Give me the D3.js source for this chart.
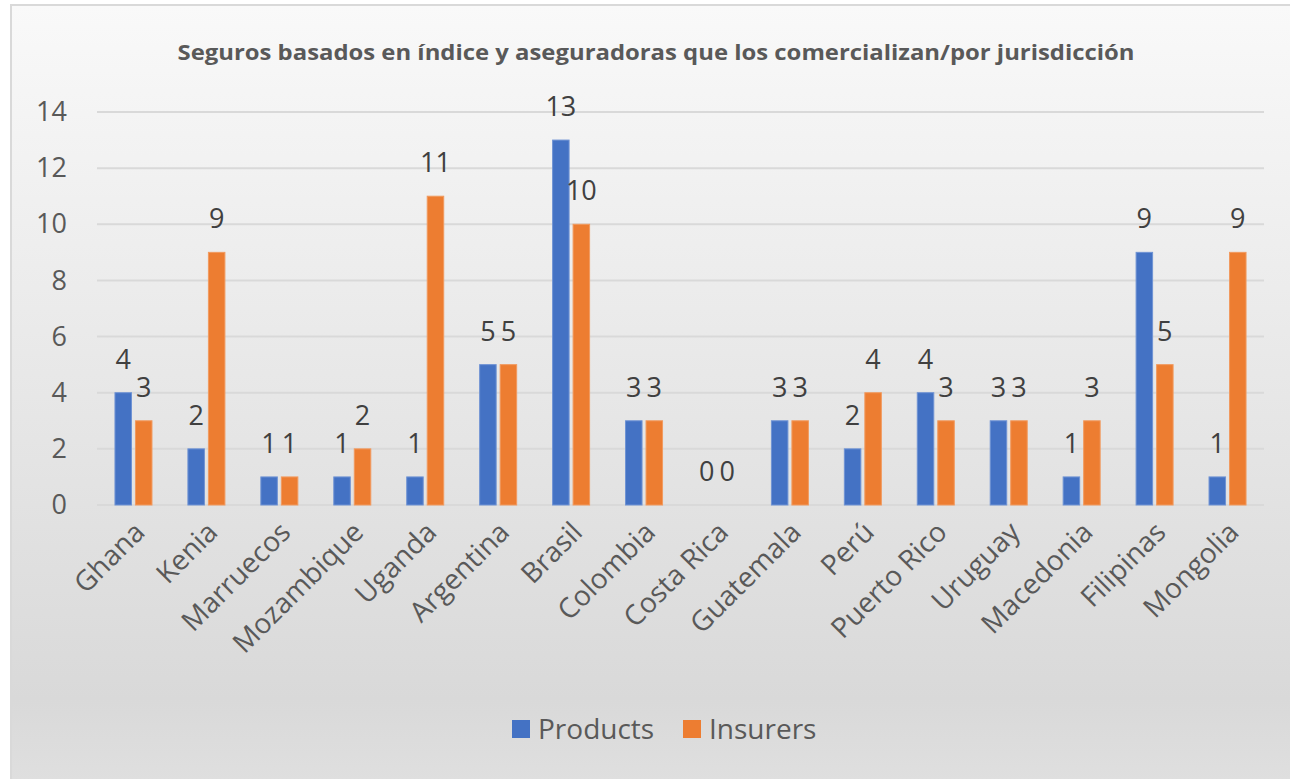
<!DOCTYPE html>
<html>
<head>
<meta charset="utf-8">
<script src="https://cdn.jsdelivr.net/npm/d3@7"></script>
<style>
    body { margin: 0; background: #fff; }
    svg { display: block; font-family: "Open Sans", sans-serif; }
</style>
</head>
<body>
<div id="chart"></div>
<script>
// data
var countries = ["Ghana", "Kenia", "Marruecos", "Mozambique", "Uganda", "Argentina", "Brasil", "Colombia",
    "Costa Rica", "Guatemala", "Perú", "Puerto Rico", "Uruguay", "Macedonia", "Filipinas", "Mongolia"];
var products = [4, 2, 1, 1, 1, 5, 13, 3, 0, 3, 2, 4, 3, 1, 9, 1];
var insurers = [3, 9, 1, 2, 11, 5, 10, 3, 0, 3, 4, 3, 3, 3, 5, 9];
var seriesNames = ["Products", "Insurers"];
var yTicks = [0, 2, 4, 6, 8, 10, 12, 14];
var titleText = "Seguros basados en índice y aseguradoras que los comercializan/por jurisdicción";

const W = 1290, H = 779;
const colors = ["#4472c4", "#ed7d31"];
const textColor = "#595959";
const labelColor = "#404040";
const fs = 27;

var svg = d3.select("#chart").append("svg")
    .attr("width", W)
    .attr("height", H);

var defs = svg.append("defs");
var grad = defs.append("linearGradient")
    .attr("id", "bg")
    .attr("x1", 0).attr("y1", 0).attr("x2", 0).attr("y2", 1);
grad.append("stop").attr("offset", "0%").attr("stop-color", "#f9f9f9");
grad.append("stop").attr("offset", "88%").attr("stop-color", "#d9d9d9");
grad.append("stop").attr("offset", "100%").attr("stop-color", "#e0e0e0");

// chart area with border
svg.append("rect")
    .attr("x", 11).attr("y", 5)
    .attr("width", W + 10).attr("height", H + 10)
    .attr("fill", "url(#bg)")
    .attr("stroke", "#d9d9d9")
    .attr("stroke-width", 2);

svg.append("text")
    .attr("x", 656)
    .attr("y", 60)
    .attr("text-anchor", "middle")
    .attr("font-size", 22)
    .attr("font-weight", "bold")
    .attr("fill", textColor)
    .attr("textLength", 957)
    .attr("lengthAdjust", "spacingAndGlyphs")
    .text(titleText);

var x = d3.scaleBand()
    .domain(countries)
    .range([97, 1264]);

var y = d3.scaleLinear()
    .domain([0, 14])
    .range([505, 112]);

// grid lines
svg.append("g")
    .selectAll("line")
    .data(yTicks)
    .enter().append("line")
    .attr("x1", 97).attr("x2", 1264)
    .attr("y1", function(d) { return y(d); })
    .attr("y2", function(d) { return y(d); })
    .attr("stroke", "#d9d9d9")
    .attr("stroke-width", 2);

// y axis labels
var yAxis = svg.append("g")
    .attr("transform", "translate(67,0)")
    .call(d3.axisLeft(y).tickValues(yTicks).tickSize(0).tickPadding(0));
yAxis.select(".domain").remove();
yAxis.selectAll("text")
    .attr("font-family", "Open Sans, sans-serif")
    .attr("font-size", fs)
    .attr("fill", textColor);

// x axis labels
var xAxis = svg.append("g")
    .attr("transform", "translate(0,505)")
    .call(d3.axisBottom(x).tickSize(0).tickPadding(0));
xAxis.select(".domain").remove();
xAxis.selectAll("text")
    .attr("font-family", "Open Sans, sans-serif")
    .attr("font-size", fs + 1)
    .attr("fill", textColor)
    .attr("text-anchor", "end")
    .attr("dy", "0.35em")
    .attr("transform", "translate(6,22) rotate(-45)");

var barW = 16.5, gap = 4;
var seriesData = [products, insurers];

seriesData.forEach(function(vals, s) {
    var offset = s === 0 ? -(gap / 2) - barW : gap / 2;
    var g = svg.append("g").attr("class", "series");
    g.selectAll("rect")
        .data(vals)
        .enter().append("rect")
        .attr("x", function(d, i) { return x(countries[i]) + x.bandwidth() / 2 + offset; })
        .attr("y", function(d) { return y(d); })
        .attr("width", barW)
        .attr("height", function(d) { return y(0) - y(d); })
        .attr("fill", colors[s])
        .attr("stroke", s === 0 ? "#6f93d4" : "#f19a5f")
        .attr("stroke-width", 1);
    g.selectAll("text")
        .data(vals)
        .enter().append("text")
        .attr("x", function(d, i) { return x(countries[i]) + x.bandwidth() / 2 + offset + barW / 2; })
        .attr("y", function(d) { return y(d) - 24; })
        .attr("text-anchor", "middle")
        .attr("font-size", fs)
        .attr("fill", labelColor)
        .text(function(d) { return d; });
});

// legend
var legend = svg.append("g");
var legendX = [512, 683];
seriesNames.forEach(function(name, i) {
    legend.append("rect")
        .attr("x", legendX[i]).attr("y", 720)
        .attr("width", 18).attr("height", 18)
        .attr("fill", colors[i]);
    legend.append("text")
        .attr("x", legendX[i] + 26)
        .attr("y", 739)
        .attr("font-size", fs + 1)
        .attr("fill", textColor)
        .text(name);
});
</script>
</body>
</html>
